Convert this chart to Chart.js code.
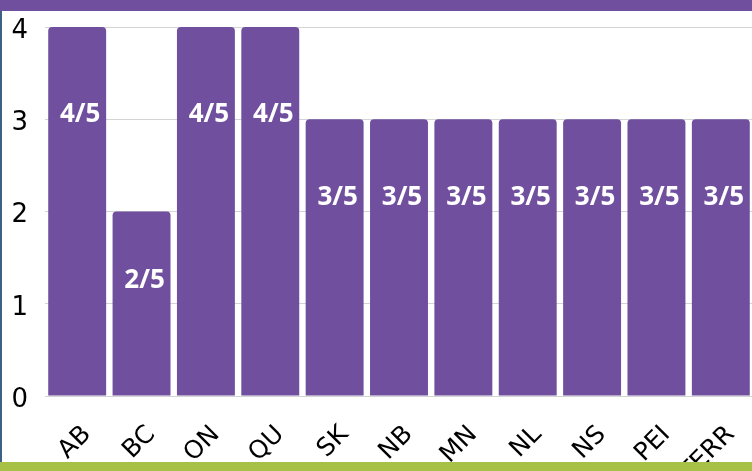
<!DOCTYPE html>
<html>
<head>
<meta charset="utf-8">
<script src="https://cdn.jsdelivr.net/npm/chart.js@4.4.1/dist/chart.umd.min.js"></script>
<style>
  html, body { margin: 0; padding: 0; background: #fff; overflow: hidden; }
  body { width: 752px; height: 471px; position: relative; }
  #topBand { position: absolute; left: 0; top: 0; width: 752px; height: 11px; background: #6f4f9e; }
  #leftLine { position: absolute; left: 0; top: 11px; width: 2px; height: 460px; background: #3d6185; }
  #bottomBand { position: absolute; left: 0; top: 462px; width: 752px; height: 9px; background: #a6c146; z-index: 2; }
  #wrap { position: absolute; left: 2px; top: 11px; width: 751px; height: 460px; }
</style>
</head>
<body>
<div id="topBand"></div>
<div id="leftLine"></div>
<div id="wrap"><canvas id="chart"></canvas></div>
<div id="bottomBand"></div>
<script>
// provinces / territories
const categories = ['AB', 'BC', 'ON', 'QU', 'SK', 'NB', 'MN', 'NL', 'NS', 'PEI', 'TERR'];
// score out of 5
const scores = [4, 2, 4, 4, 3, 3, 3, 3, 3, 3, 3];
const outOf = 5;
const yTicks = [0, 1, 2, 3, 4];

const purple = '#6f4f9e';

// white "n/5" labels inside the bars
const scoreLabels = {
    id: 'scoreLabels',
    afterDatasetsDraw(chart) {
        const ctx = chart.ctx;
        const meta = chart.getDatasetMeta(0);
        const yScale = chart.scales.y;
        ctx.save();
        ctx.fillStyle = '#fff';
        ctx.font = 'bold 26px "Open Sans"';
        ctx.textAlign = 'center';
        ctx.textBaseline = 'middle';
        meta.data.forEach((bar, i) => {
            const v = scores[i];
            const y = yScale.getPixelForValue(v * 0.9 - 0.55);
            ctx.fillText(v + '/' + outOf, bar.x + 3, y);
        });
        ctx.restore();
    }
};

const ctx = document.getElementById('chart').getContext('2d');
new Chart(ctx, {
    type: 'bar',
    data: {
        labels: categories,
        datasets: [{
            data: scores,
            backgroundColor: purple,
            borderRadius: { topLeft: 4, topRight: 4 },
            borderSkipped: 'bottom',
            barPercentage: 0.9,
            categoryPercentage: 1
        }]
    },
    options: {
        responsive: true,
        maintainAspectRatio: false,
        animation: false,
        layout: { padding: { left: 0, right: 0, top: 16, bottom: 0 } },
        plugins: {
            legend: { display: false },
            tooltip: { enabled: false }
        },
        scales: {
            y: {
                min: 0,
                max: 4,
                afterBuildTicks(scale) {
                    scale.ticks = yTicks.map(v => ({ value: v }));
                },
                afterFit(scale) {
                    scale.width = 43;
                    scale.paddingTop = 0;
                    scale.paddingBottom = 0;
                },
                border: { display: false },
                grid: { color: '#d4d4d4', lineWidth: 1, drawTicks: false },
                ticks: {
                    padding: 17,
                    labelOffset: 4,
                    color: '#000',
                    font: { family: 'DejaVu Sans', size: 26 }
                }
            },
            x: {
                afterFit(scale) {
                    scale.height = 75;
                    scale.paddingLeft = 0;
                    scale.paddingRight = 0;
                },
                border: { display: false },
                grid: { display: false },
                ticks: {
                    minRotation: 45,
                    maxRotation: 45,
                    padding: 16,
                    labelOffset: 10,
                    color: '#000',
                    font: { family: 'DejaVu Sans', size: 25 }
                }
            }
        }
    },
    plugins: [scoreLabels]
});
</script>
</body>
</html>
